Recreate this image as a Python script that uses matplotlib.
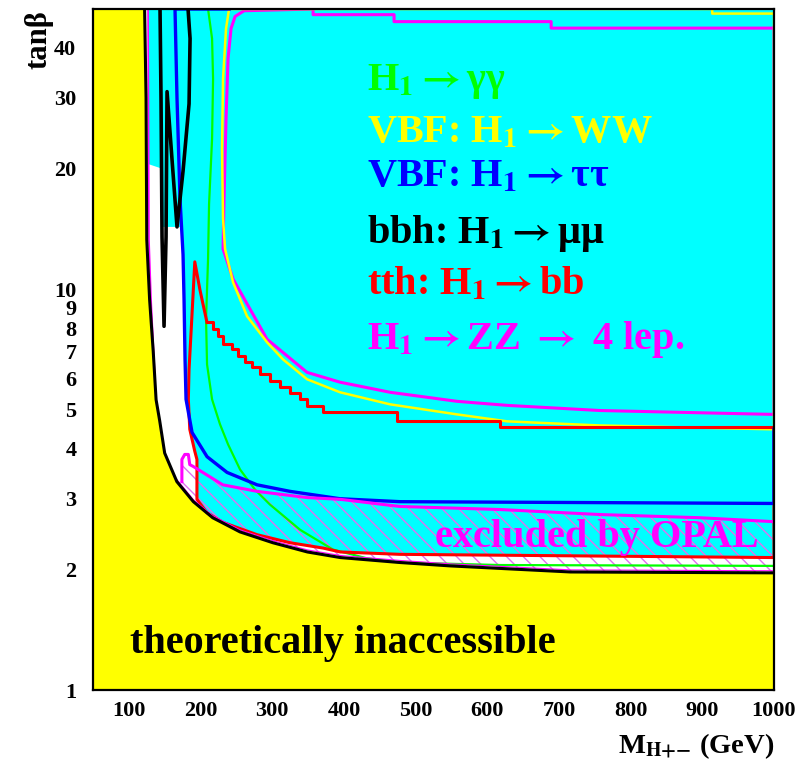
import numpy as np
import matplotlib
matplotlib.use('Agg')
import matplotlib.pyplot as plt

plt.rcParams['font.family'] = ['Liberation Serif', 'DejaVu Serif']
plt.rcParams['font.weight'] = 'bold'
plt.rcParams['mathtext.fontset'] = 'stix'
plt.rcParams['mathtext.default'] = 'bf'
plt.rcParams['hatch.linewidth'] = 1.0

# %% contours (M_H+- in GeV, tan beta)

# theoretical limit (black), yellow below/left of it
theo_x = [122, 124, 125, 129, 134, 138, 143, 150, 167, 190, 217, 255, 301, 349, 395, 478, 548, 716, 1000]
theo_y = [50, 30, 13.3, 9.4, 7.0, 5.3, 4.7, 3.9, 3.31, 2.95, 2.69, 2.48, 2.33, 2.21, 2.14, 2.08, 2.04, 1.97, 1.96]

# thin magenta line next to the limit
magl_x = [126.8, 128.1, 131.0, 133.7, 136.5]
magl_y = [50, 13.3, 9.44, 7.5, 5.96]

# discovery region (cyan), outer boundary
cyan_x = [126.8, 1000, 1000, 478, 395, 371, 325, 279, 231, 209, 195, 195, 192, 185,
          180, 178, 177, 176, 175, 167, 146, 145.6, 127.7]
cyan_y = [50, 50, 2.14, 2.18, 2.21, 2.26, 2.33, 2.44, 2.62, 2.77, 2.99, 3.76, 3.94, 4.47,
          5.31, 6.68, 9.44, 12.2, 14.3, 14.3, 14.3, 20.0, 20.5]

# bbh: H -> mumu (black loop)
bbh_x = [143.5, 144.9, 146.3, 149.1, 151.9, 153.3, 160.2, 167.2, 175.6, 184.0, 185.4, 182.6]
bbh_y = [50, 29.9, 13.5, 8.08, 13.5, 31.1, 21.1, 14.3, 19.7, 29.0, 42.2, 50]

# VBF: H -> tautau (blue)
tau_x = [240, 164.4, 167.2, 171.4, 175.6, 177.0, 178.4, 179.8, 188.2, 209.1, 237.0, 278.9,
         324.9, 394.7, 478.4, 1000, 1000]
tau_y = [50, 50, 29.9, 16.8, 12.2, 9.44, 6.68, 5.31, 4.39, 3.82, 3.49, 3.25,
         3.13, 3.0, 2.95, 2.92, 4.47]

# H -> gamma gamma (green)
gam_x = [210.5, 216.1, 217.5, 216.1, 211.9, 210.5, 207.7, 209.1, 216.1, 227.2, 238.4, 255.1,
         276.1, 297.0, 338.9, 384.9, 432.4, 478.4, 618, 1000]
gam_y = [50, 42.2, 33.5, 23.7, 16.3, 11.9, 8.41, 6.49, 5.31, 4.6, 4.1, 3.55,
         3.16, 2.90, 2.51, 2.24, 2.13, 2.08, 2.05, 2.04]

# VBF: H -> WW (yellow)
ww_x = [1000, 1000, 913.8, 913.8, 239.8, 235.6, 231.4, 230.0, 231.4, 234.2, 245.4, 264.9,
        292.8, 315.1, 348.6, 394.7, 464.5, 558.0, 627.7, 757.5, 1000]
ww_y = [4.47, 48.7, 48.7, 50, 50, 44.7, 33.5, 22.4, 15.0, 12.6, 10.4, 8.56,
        7.37, 6.68, 5.96, 5.53, 5.16, 4.87, 4.68, 4.57, 4.47]

# H -> ZZ -> 4 lep. (magenta)
zz_x = [1000, 689.1, 689.1, 470.0, 470.0, 357.0, 357.0, 260.7, 248.2, 242.6, 238.4, 235.6,
        232.8, 231.4, 245.4, 292.8, 348.6, 394.7, 464.5, 558.0, 627.7, 757.5, 1000, 1000]
zz_y = [44.8, 44.8, 46.5, 46.5, 48.4, 48.4, 50, 49.5, 47.9, 44.7, 37.6, 26.6,
        16.8, 12.6, 10.6, 7.50, 6.20, 5.86, 5.53, 5.25, 5.13, 4.98, 4.87, 44.8]

# tth: H -> bb (red), smooth part and staircase
tth_x = [1000, 1000, 478, 395, 371, 325, 279, 231, 209, 195, 195, 192, 185, 183, 184,
         187, 190, 192, 199, 205, 209]
tth_y = [4.47, 2.14, 2.18, 2.21, 2.26, 2.33, 2.44, 2.62, 2.77, 2.99, 3.76, 3.94, 4.47, 5.31, 6.31,
         7.94, 10.0, 11.7, 10.0, 8.91, 8.27]
step_x = [209, 217, 224, 231, 244, 252, 262, 272, 283, 297, 311, 325, 339, 349, 371, 474, 618, 1000]
step_y = [8.27, 7.94, 7.63, 7.29, 7.08, 6.80, 6.57, 6.38, 6.13, 5.89, 5.69, 5.50, 5.31, 5.10,
          4.93, 4.68, 4.52, 4.47]

# excluded by OPAL (upper edge of the hatched band)
opal_x = [1000, 897, 757, 618, 478, 395, 349, 279, 231, 190, 185, 183, 178, 174, 174]
opal_y = [2.63, 2.69, 2.74, 2.82, 2.87, 2.99, 3.02, 3.13, 3.25, 3.61, 3.65, 3.87, 3.87, 3.76, 3.31]

ytick_vals = [1, 2, 3, 4, 5, 6, 7, 8, 9, 10, 20, 30, 40]
xtick_vals = [100, 200, 300, 400, 500, 600, 700, 800, 900, 1000]

legend_txt = ['H$_1\\rightarrow$γγ', 'VBF: H$_1\\rightarrow$WW', 'VBF: H$_1\\rightarrow$ττ',
              'bbh: H$_1\\rightarrow$μμ', 'tth: H$_1\\rightarrow$bb',
              'H$_1\\rightarrow$ZZ $\\rightarrow$ 4 lep.']
legend_col = ['#00ff00', '#ffff00', '#0000ff', 'black', '#ff0000', '#ff00ff']
legend_y = [31.4, 23.2, 18.1, 13.0, 9.72, 7.08]

# %% figure

fig = plt.figure(figsize=(8.01, 7.65), dpi=100)
ax = fig.add_axes([93/801, 75/765, 681/801, 681/765])
ax.set_facecolor('white')

ax.fill(cyan_x, cyan_y, color='#00ffff', lw=0, zorder=1)
ax.fill(theo_x + [1000, 50, 50], theo_y + [1, 1, 50], color='#ffff00', lw=0, zorder=2)
ax.fill(opal_x + theo_x[8:], opal_y + theo_y[8:], facecolor='none', edgecolor='#e070f0',
        hatch='\\\\', lw=0, zorder=3)

ax.plot(gam_x, gam_y, color='#00ff00', lw=1.6, zorder=4)
ax.plot(ww_x, ww_y, color='#ffff00', lw=1.8, zorder=5)
ax.plot(zz_x, zz_y, color='#ff00ff', lw=2.2, zorder=4.5)
ax.plot(tth_x, tth_y, color='#ff0000', lw=2.2, zorder=6)
ax.plot(step_x, step_y, color='#ff0000', lw=2.2, drawstyle='steps-post', zorder=6)
ax.plot(tau_x, tau_y, color='#0000ff', lw=2.4, zorder=7)
ax.plot(opal_x, opal_y, color='#ff00ff', lw=2.2, zorder=7)
ax.plot(theo_x[8:], [v * 1.012 for v in theo_y[8:]], color='#ff00ff', lw=0.8, zorder=7)
ax.plot(magl_x, magl_y, color='#ff00ff', lw=1.2, zorder=7)
ax.plot(bbh_x, bbh_y, color='black', lw=2.6, zorder=8)
ax.plot(theo_x, theo_y, color='black', lw=2.2, zorder=8)

for t, c, y in zip(legend_txt, legend_col, legend_y):
    ax.text(432, y, t, color=c, fontsize=29, fontweight='bold', va='baseline', ha='left', zorder=10)

ax.text(527, 2.28, 'excluded by OPAL', color='#ff00ff', fontsize=29, fontweight='bold',
        va='baseline', ha='left', zorder=10)
ax.text(101.6, 1.24, 'theoretically inaccessible', color='black', fontsize=29, fontweight='bold',
        va='baseline', ha='left', zorder=10)

ax.set_xlim(50, 1000)
ax.set_yscale('log')
ax.set_ylim(1, 50)
ax.set_yticks(ytick_vals)
ax.set_yticklabels([str(v) for v in ytick_vals])
ax.set_yticks([], minor=True)
ax.set_xticks(xtick_vals)
ax.set_xticklabels([str(v) for v in xtick_vals])
ax.tick_params(axis='both', length=0, labelsize=16)
ax.tick_params(axis='y', pad=12)
ax.tick_params(axis='x', pad=8)
for s in ax.spines.values():
    s.set_linewidth(1.6)
    s.set_zorder(12)

fig.text(618/801, (765-753)/765, 'M$_{\\mathbf{H{+}{-}}}$ (GeV)', fontsize=20.5, fontweight='bold',
         ha='left', va='baseline')
fig.text(39/801, (765-10)/765, 'tanβ', fontsize=22, fontweight='bold', rotation=90,
         ha='center', va='top')

fig.savefig('out.png', dpi=100)
